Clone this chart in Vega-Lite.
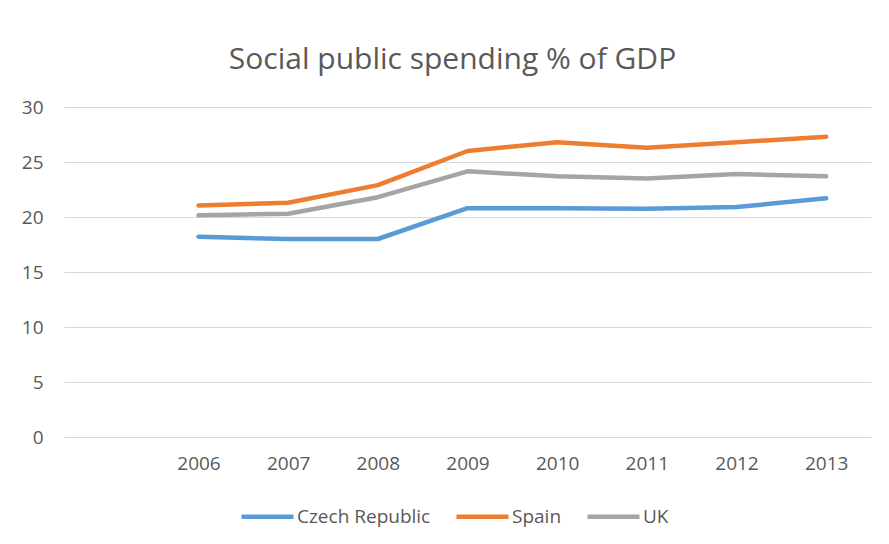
{
  "$schema": "https://vega.github.io/schema/vega-lite/v6.json",
  "autosize": {"type": "none"},
  "width": 807,
  "height": 330,
  "padding": {"left": 64, "top": 107, "right": 18, "bottom": 107},
  "background": "white",
  "config": {
    "view": {"stroke": null},
    "font": "Open Sans",
    "axis": {"labelFont": "Open Sans", "labelColor": "#595959", "labelFontSize": 19}
  },
  "title": {
    "text": "Social public spending % of GDP",
    "font": "Open Sans",
    "fontSize": 30,
    "fontWeight": "normal",
    "color": "#595959",
    "anchor": "middle",
    "dx": -15,
    "offset": 23
  },
  "data": {
    "values": [
      {"year": 2006, "country": "Czech Republic", "value": 18.2},
      {"year": 2007, "country": "Czech Republic", "value": 18.0},
      {"year": 2008, "country": "Czech Republic", "value": 18.0},
      {"year": 2009, "country": "Czech Republic", "value": 20.8},
      {"year": 2010, "country": "Czech Republic", "value": 20.8},
      {"year": 2011, "country": "Czech Republic", "value": 20.75},
      {"year": 2012, "country": "Czech Republic", "value": 20.9},
      {"year": 2013, "country": "Czech Republic", "value": 21.7},
      {"year": 2006, "country": "Spain", "value": 21.05},
      {"year": 2007, "country": "Spain", "value": 21.3},
      {"year": 2008, "country": "Spain", "value": 22.9},
      {"year": 2009, "country": "Spain", "value": 26.0},
      {"year": 2010, "country": "Spain", "value": 26.8},
      {"year": 2011, "country": "Spain", "value": 26.3},
      {"year": 2012, "country": "Spain", "value": 26.8},
      {"year": 2013, "country": "Spain", "value": 27.3},
      {"year": 2006, "country": "UK", "value": 20.15},
      {"year": 2007, "country": "UK", "value": 20.3},
      {"year": 2008, "country": "UK", "value": 21.8},
      {"year": 2009, "country": "UK", "value": 24.15},
      {"year": 2010, "country": "UK", "value": 23.7},
      {"year": 2011, "country": "UK", "value": 23.5},
      {"year": 2012, "country": "UK", "value": 23.9},
      {"year": 2013, "country": "UK", "value": 23.7}
    ]
  },
  "mark": {"type": "line", "strokeWidth": 4.5, "strokeCap": "round", "strokeJoin": "round"},
  "encoding": {
    "x": {
      "field": "year",
      "type": "quantitative",
      "scale": {"domain": [2004.5, 2013.5], "nice": false, "zero": false},
      "axis": {
        "title": null,
        "values": [2006, 2007, 2008, 2009, 2010, 2011, 2012, 2013],
        "format": "d",
        "grid": false,
        "domain": false,
        "ticks": false,
        "labelPadding": 17,
        "labelFlush": false
      }
    },
    "y": {
      "field": "value",
      "type": "quantitative",
      "scale": {"domain": [0, 30], "nice": false},
      "axis": {
        "title": null,
        "values": [0, 5, 10, 15, 20, 25, 30],
        "grid": true,
        "gridColor": "#d9d9d9",
        "gridWidth": 1.2,
        "domain": false,
        "ticks": false,
        "labelPadding": 21
      }
    },
    "color": {
      "field": "country",
      "type": "nominal",
      "scale": {"domain": ["Czech Republic", "Spain", "UK"], "range": ["#5B9BD5", "#ED7D31", "#A5A5A5"]},
      "legend": {
        "title": null,
        "orient": "none",
        "direction": "horizontal",
        "legendX": 175,
        "legendY": 381,
        "symbolType": "stroke",
        "symbolSize": 2704,
        "symbolStrokeWidth": 4.5,
        "labelOffset": 1,
        "columnPadding": 16,
        "labelFont": "Open Sans",
        "labelFontSize": 19,
        "labelColor": "#595959"
      }
    }
  }
}
